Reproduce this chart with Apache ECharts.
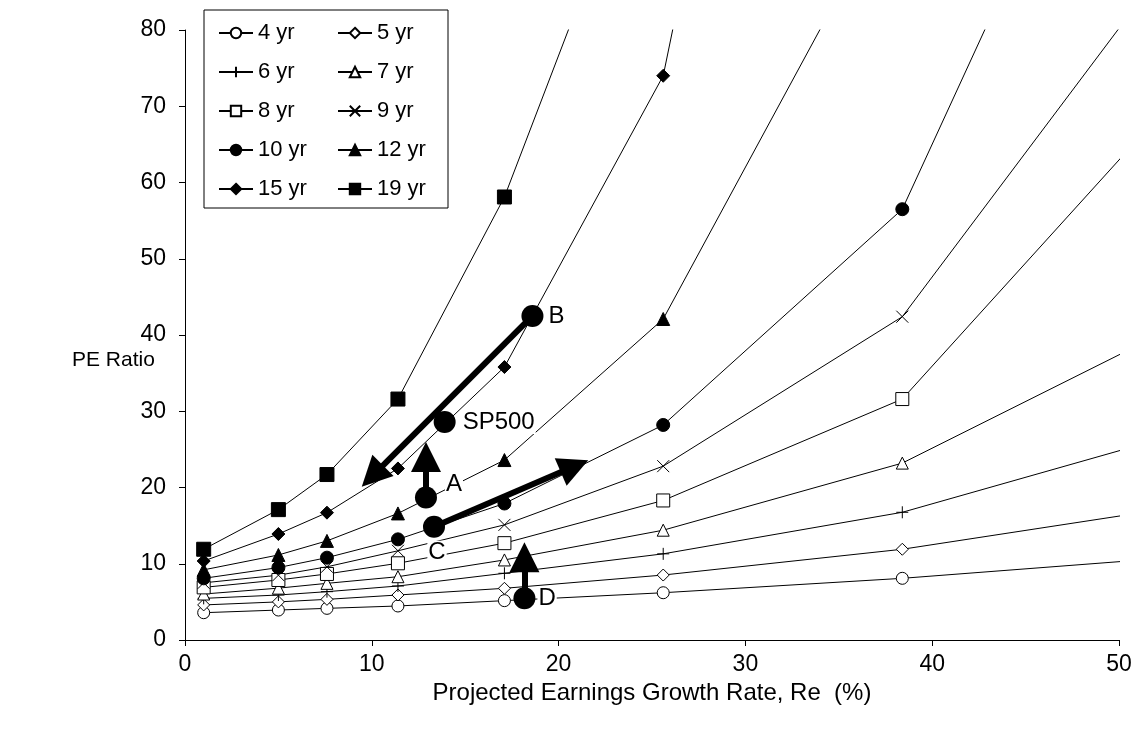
<!DOCTYPE html>
<html><head><meta charset="utf-8">
<script src="https://cdn.jsdelivr.net/npm/echarts@6/dist/echarts.min.js"></script>
<style>html,body{margin:0;padding:0;background:#fff}#c{width:1136px;height:729px}</style>
</head><body><div id="c"></div>
<script>
// ---- data ----
const growth = [1, 5, 7.6, 11.4, 17.1, 25.6, 38.4, 57.6];
const pe4yr  = [3.58, 3.93, 4.15, 4.46, 5.16, 6.2, 8.09, 11.7];
const pe5yr  = [4.6, 5.0, 5.33, 5.9, 6.78, 8.52, 11.9, 19.1];
const pe6yr  = [5.46, 5.9, 6.34, 7.08, 8.75, 11.3, 16.75, 30.1];
const pe7yr  = [6.03, 6.8, 7.43, 8.3, 10.5, 14.4, 23.2, 46.7];
const pe8yr  = [6.9, 7.87, 8.66, 10.06, 12.7, 18.3, 31.6, 83.5];
const pe9yr  = [7.5, 8.5, 9.6, 11.7, 15.1, 22.8, 42.4, 105];
const pe10yr = [8.09, 9.5, 10.8, 13.2, 17.9, 28.2, 56.5, 158.8];
const pe12yr = [9.2, 11.15, 13.0, 16.6, 23.6, 42.1, 100];
const pe15yr = [10.36, 13.9, 16.7, 22.5, 35.8, 74, 226];
const pe19yr = [11.9, 17.1, 21.7, 31.6, 58.1, 112.5];
const seriesNames = ['4 yr','5 yr','6 yr','7 yr','8 yr','9 yr','10 yr','12 yr','15 yr','19 yr'];
const seriesValues = [pe4yr, pe5yr, pe6yr, pe7yr, pe8yr, pe9yr, pe10yr, pe12yr, pe15yr, pe19yr];

// highlighted points
const pointNames = ['B', 'SP500', 'A', 'C', 'D'];
const pointGrowth = [18.6, 13.9, 12.9, 13.33, 18.17];
const pointPE = [42.5, 28.6, 18.7, 14.86, 5.47];

// arrows: from [growth, PE] to [growth, PE] (arrow-head centre)
const arrowFrom = [[18.6, 42.5], [12.9, 18.7], [13.33, 14.86], [18.17, 5.47]];
const arrowTo   = [[10.03, 21.5], [12.9, 24.0], [20.85, 22.8], [18.17, 10.85]];

// ---- styling ----
const FONT = 'Liberation Sans, Arial, sans-serif';
const plusPath = 'path://M5,0L5,10M0,5L10,5';
const crossPath = 'path://M0,0L10,10M10,0L0,10';
const markerStyles = [
  {symbol: 'circle', size: 12, fill: '#fff'},
  {symbol: 'diamond', size: 12, fill: '#fff'},
  {symbol: plusPath, size: 12, fill: 'none'},
  {symbol: 'triangle', size: 12, fill: '#fff'},
  {symbol: 'rect', size: 13, fill: '#fff'},
  {symbol: crossPath, size: 12, fill: 'none'},
  {symbol: 'circle', size: 13, fill: '#000'},
  {symbol: 'triangle', size: 13, fill: '#000'},
  {symbol: 'diamond', size: 13, fill: '#000'},
  {symbol: 'rect', size: 14, fill: '#000'}
];
const labelPlacement = {
  'B': {position: 'right', distance: 4},
  'SP500': {position: 'right', distance: 6},
  'A': {position: 'right', distance: 4, offset: [4, -13]},
  'C': {position: 'bottom', distance: 3, offset: [3, 0]},
  'D': {position: 'right', distance: 2}
};

const series = seriesValues.map((vals, i) => {
  const m = markerStyles[i];
  return {
    name: seriesNames[i],
    type: 'line',
    data: vals.map((v, j) => [growth[j], v]),
    symbol: m.symbol,
    symbolSize: m.size,
    showAllSymbol: true,
    clip: true,
    z: 2,
    lineStyle: {color: '#000', width: 1},
    itemStyle: {color: m.fill, borderColor: '#000', borderWidth: 1, opacity: 1},
    emphasis: {disabled: true},
    animation: false
  };
});

series.push({
  type: 'line',
  data: [],
  z: 5,
  silent: true,
  animation: false,
  markLine: {
    silent: true,
    animation: false,
    symbol: ['none', 'triangle'],
    symbolSize: 30,
    label: {show: false},
    lineStyle: {color: '#000', width: 6, type: 'solid', opacity: 1},
    itemStyle: {color: '#000'},
    emphasis: {disabled: true},
    data: arrowFrom.map((f, i) => [{coord: f}, {coord: arrowTo[i]}])
  }
});

series.push({
  type: 'scatter',
  z: 6,
  symbol: 'circle',
  symbolSize: 22,
  itemStyle: {color: '#000', opacity: 1},
  emphasis: {disabled: true},
  animation: false,
  data: pointNames.map((n, i) => ({
    name: n,
    value: [pointGrowth[i], pointPE[i]],
    label: Object.assign({
      show: true, formatter: '{b}', fontFamily: FONT, fontSize: 24, color: '#000',
      backgroundColor: '#fff', padding: [0, 1]
    }, labelPlacement[n])
  }))
});

const chart = echarts.init(document.getElementById('c'), null, {renderer: 'canvas'});
chart.setOption({
  animation: false,
  backgroundColor: '#fff',
  grid: {left: 185, right: 17, top: 30, bottom: 89, containLabel: false},
  xAxis: {
    type: 'value', min: 0, max: 50, interval: 10,
    axisLine: {show: true, onZero: false, lineStyle: {color: '#000', width: 1}},
    axisTick: {show: true, length: 6, lineStyle: {color: '#000'}},
    splitLine: {show: false},
    axisLabel: {color: '#000', fontFamily: FONT, fontSize: 23, margin: 13},
    name: 'Projected Earnings Growth Rate, Re  (%)',
    nameLocation: 'middle', nameGap: 40,
    nameTextStyle: {color: '#000', fontFamily: FONT, fontSize: 24}
  },
  yAxis: {
    type: 'value', min: 0, max: 80, interval: 10,
    axisLine: {show: true, onZero: false, lineStyle: {color: '#000', width: 1}},
    axisTick: {show: true, length: 6, lineStyle: {color: '#000'}},
    splitLine: {show: false},
    axisLabel: {color: '#000', fontFamily: FONT, fontSize: 23, margin: 19}
  },
  legend: {
    left: 204, top: 10, width: 236,
    orient: 'horizontal',
    itemWidth: 34, itemHeight: 13, itemGap: 17,
    padding: [12, 9, 8, 14],
    borderColor: '#000', borderWidth: 1,
    backgroundColor: '#fff',
    selectedMode: false,
    formatter: '{t|{name}}',
    textStyle: {
      color: '#000', fontFamily: FONT, fontSize: 22, lineHeight: 22,
      rich: {t: {width: 62, fontFamily: FONT, fontSize: 22, lineHeight: 22, color: '#000'}}
    },
    data: seriesNames
  },
  graphic: [{
    type: 'text', left: 72, top: 350,
    style: {text: 'PE Ratio', fontFamily: FONT, fontSize: 21, fill: '#000'}
  }],
  series: series
});
</script>
</body></html>
